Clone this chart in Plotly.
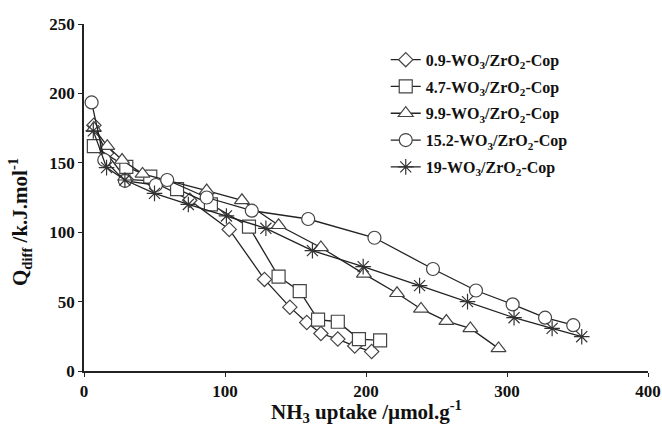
import plotly.graph_objects as go

names = ["0.9-WO<sub>3</sub>/ZrO<sub>2</sub>-Cop",
         "4.7-WO<sub>3</sub>/ZrO<sub>2</sub>-Cop",
         "9.9-WO<sub>3</sub>/ZrO<sub>2</sub>-Cop",
         "15.2-WO<sub>3</sub>/ZrO<sub>2</sub>-Cop",
         "19-WO<sub>3</sub>/ZrO<sub>2</sub>-Cop"]

x_09 = [7, 16, 30, 48, 75, 103, 128, 146, 158, 168, 180, 192, 204]
y_09 = [177, 157, 138, 137, 123, 102, 66, 46, 35, 27, 23, 18, 14]

x_47 = [7, 30, 47, 66, 90, 117, 138, 153, 166, 180, 195, 210]
y_47 = [162, 147, 140, 131, 120, 104, 68, 57.5, 37, 35.5, 23, 22]

x_99 = [7, 16.5, 27, 41.5, 87, 112, 138, 168, 198.5, 222, 239, 257, 274, 294]
y_99 = [175, 162, 152, 142, 130, 123, 105, 89, 70, 56, 44.7, 36, 30.7, 16.3]

x_152 = [5.4, 14.4, 29, 51, 59, 87, 119, 159, 206, 247.5, 278, 304, 327, 347]
y_152 = [193.5, 152, 137, 134, 137.6, 125, 115.5, 109.5, 96, 73.5, 58, 48, 38.4, 33]

x_19 = [6.6, 16, 29, 50, 74, 101, 129, 162, 198, 238, 272, 305, 332, 353]
y_19 = [173, 146.5, 137.6, 128, 120, 111.7, 102.8, 86.7, 75.2, 61.5, 50, 38.4, 30.7, 24.7]

series = [(x_09, y_09, "diamond", 11, "white"),
          (x_47, y_47, "square", 13, "white"),
          (x_99, y_99, "triangle-up", 13, "white"),
          (x_152, y_152, "circle", 13, "white"),
          (x_19, y_19, "asterisk-open", 13, "#333333")]

x_ticks = [0, 100, 200, 300, 400]
y_ticks = [0, 50, 100, 150, 200, 250]

FONT = "Liberation Serif"

fig = go.Figure()
for i, ((xs, ys, sym, sz, fc), nm) in enumerate(zip(series, names)):
    fig.add_trace(go.Scatter(
        x=xs, y=ys, mode="lines+markers", name=nm, legendgroup=f"g{i}",
        line=dict(color="#222222", width=1.3),
        marker=dict(symbol=sym, size=sz, color=fc,
                    line=dict(color="#444444", width=1.2)),
    ))

fig.update_layout(
    width=662, height=426,
    margin=dict(l=84, r=14, t=24, b=55),
    paper_bgcolor="white", plot_bgcolor="white",
    font=dict(family=FONT, color="#111111"),
    showlegend=True,
    legend=dict(x=0.535, y=0.946, xanchor="left", yanchor="top",
                bgcolor="rgba(0,0,0,0)",
                font=dict(family=FONT, size=16, color="#111111", weight="bold"),
                tracegroupgap=3, itemwidth=30),
    xaxis=dict(range=[0, 400], tickvals=x_ticks, showgrid=False, zeroline=False,
               showline=True, linecolor="#222222", linewidth=1.5, automargin=False,
               ticks="outside", ticklen=4, tickcolor="#222222",
               tickfont=dict(family=FONT, size=17, weight="bold")),
    yaxis=dict(range=[0, 250], tickvals=y_ticks, showgrid=False, zeroline=False,
               showline=True, linecolor="#222222", linewidth=1.5, automargin=False,
               ticks="outside", ticklen=4, tickcolor="#222222",
               tickfont=dict(family=FONT, size=17, weight="bold")),
    annotations=[
        dict(text="Q<sub>diff</sub> /k.J.mol<sup>-1</sup>",
             xref="paper", yref="paper", x=-0.113, y=0.43,
             xanchor="center", yanchor="middle", textangle=-90,
             showarrow=False,
             font=dict(family=FONT, size=21, weight="bold", color="#111111")),
        dict(text="NH<sub>3</sub> uptake /µmol.g<sup>-1</sup>",
             xref="paper", yref="paper", x=0.5, y=-0.117,
             xanchor="center", yanchor="middle",
             showarrow=False,
             font=dict(family=FONT, size=21, weight="bold", color="#111111")),
    ],
)

fig.write_html("out.html")
